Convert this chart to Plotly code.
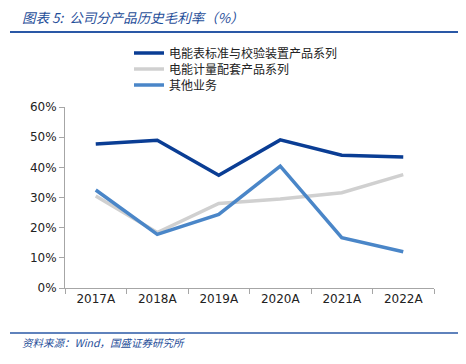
import plotly.graph_objects as go

categories = ["2017A", "2018A", "2019A", "2020A", "2021A", "2022A"]
series_names = ["电能表标准与校验装置产品系列", "电能计量配套产品系列", "其他业务"]
s1 = [0.477, 0.490, 0.374, 0.491, 0.440, 0.434]
s2 = [0.305, 0.184, 0.280, 0.295, 0.316, 0.376]
s3 = [0.325, 0.178, 0.244, 0.404, 0.167, 0.120]
colors = ["#0a3d94", "#d0d0d0", "#4a86c8"]
ytickvals = [0, 0.1, 0.2, 0.3, 0.4, 0.5, 0.6]

# page body has an 8px default margin; work in reference pixel coords
OFF = 8
W, H = 466 - OFF, 364 - OFF
ml, mr, mt, mb = 65 - OFF, 466 - 434, 107 - OFF, 364 - 288


def py(p):
    p -= OFF
    return (H - mb - p) / (H - mt - mb)


def px(p):
    p -= OFF
    return (p - ml) / (W - ml - mr)


fig = go.Figure()
legend_ids = ["legend", "legend2", "legend3"]
for name, vals, c, lg in zip(series_names, [s1, s2, s3], colors, legend_ids):
    fig.add_trace(go.Scatter(x=categories, y=vals, name=name, mode="lines",
                             line=dict(color=c, width=3.5), legend=lg))

legend_tops = [38.5, 54.5, 70.5]
leg_common = dict(xanchor="left", yanchor="top", bgcolor="rgba(0,0,0,0)",
                  font=dict(size=12, color="#222", family="Noto Sans CJK SC"),
                  itemwidth=30)
fig.update_layout(
    width=W, height=H,
    margin=dict(l=ml, r=mr, t=mt, b=mb),
    paper_bgcolor="white", plot_bgcolor="white",
    font=dict(family="Noto Sans CJK SC", size=12, color="#222"),
    showlegend=True,
    legend=dict(x=px(129), y=py(legend_tops[0]), **leg_common),
    legend2=dict(x=px(129), y=py(legend_tops[1]), **leg_common),
    legend3=dict(x=px(129), y=py(legend_tops[2]), **leg_common),
    xaxis=dict(type="category", range=[-0.5, 5.5], showgrid=False, showline=True,
               linecolor="#a6a6a6", ticks="outside", tickson="boundaries", ticklen=5,
               tickcolor="#a6a6a6", zeroline=False,
               tickfont=dict(family="DejaVu Sans", size=12, color="#222")),
    yaxis=dict(range=[0, 0.6], tickvals=ytickvals, tickformat=".0%", showgrid=False,
               showline=True, linecolor="#a6a6a6", ticks="outside", ticklen=5,
               tickcolor="#a6a6a6", zeroline=False,
               tickfont=dict(family="DejaVu Sans", size=12, color="#222")),
)

fig.add_shape(type="line", xref="paper", yref="paper",
              x0=px(10), x1=px(460), y0=py(32), y1=py(32),
              line=dict(color="#2a58a6", width=2))
fig.add_shape(type="line", xref="paper", yref="paper",
              x0=px(10), x1=px(460), y0=py(333), y1=py(333),
              line=dict(color="#2a58a6", width=1.5))

fig.add_annotation(text="<i>图表 5:  公司分产品历史毛利率（%）</i>", xref="paper", yref="paper",
                   x=px(20), y=py(17), xanchor="left", yanchor="middle",
                   showarrow=False, font=dict(size=13.5, color="#1f4e99", family="Noto Sans CJK SC"))
fig.add_annotation(text="<i>资料来源：Wind，国盛证券研究所</i>", xref="paper", yref="paper",
                   x=px(20), y=py(342), xanchor="left", yanchor="middle",
                   showarrow=False, font=dict(size=10.5, color="#1f4e99", family="Noto Sans CJK SC"))

fig.write_html("out.html")
